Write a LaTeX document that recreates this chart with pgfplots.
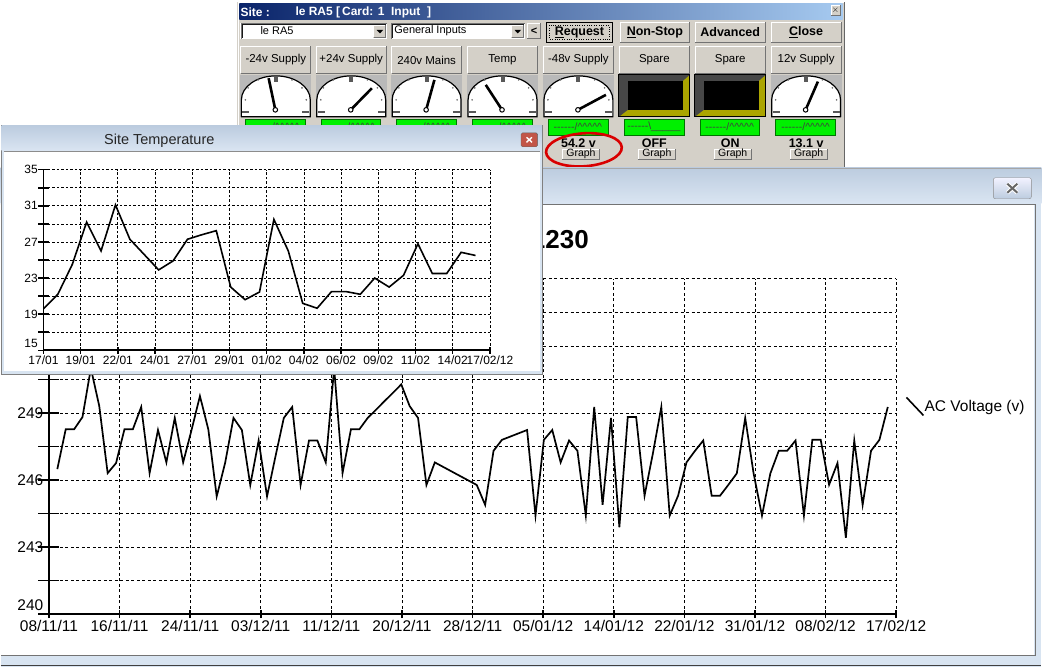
\documentclass[border=0pt]{standalone}
\usepackage{pgfplots}
\pgfplotsset{compat=1.18}
\usepackage{fontspec}
\setmainfont{Liberation Sans}
\definecolor{panel}{HTML}{D4D0C8}
\definecolor{navy}{HTML}{0A246A}
\definecolor{ltblue}{HTML}{A6CAF0}
\definecolor{winA}{HTML}{BCCCDF}
\definecolor{winB}{HTML}{DAE5F2}
\definecolor{frame}{HTML}{D8E4F1}
\definecolor{led}{HTML}{00F000}
\definecolor{olive}{HTML}{ABA500}
\definecolor{closered}{HTML}{C25548}
\newcommand\bevel[4]{%
  \fill[panel] (#1,#2) rectangle (#3,#4);
  \draw[white, line width=1pt] (#1+0.5,#4-0.5) -- (#1+0.5,#2+0.5) -- (#3-0.5,#2+0.5);
  \draw[black!55, line width=1pt] (#1+0.5,#4-0.5) -- (#3-0.5,#4-0.5) -- (#3-0.5,#2+0.5);}
\newcommand\hy{\mbox{-}}
\newcommand\ca{\textasciicircum}
\newcommand\ledup{\hy\hy\hy\hy\hy\hy/\ca\ca\ca\ca\ca}
\newcommand\leddown{\hy\hy\hy\hy\hy\hy\textbackslash\_\_\_\_\_}
\begin{document}
\begin{tikzpicture}[x=1pt,y=1pt]
\fill[white] (0,0) rectangle (1042,668);
\begin{scope}[y=-1pt, yshift=668pt]
% ---------- control panel ----------
\fill[panel] (237,2) rectangle (845,168);
\draw[white] (237.5,168) -- (237.5,2.5) -- (845,2.5);
\draw[black!60] (844.5,2.5) -- (844.5,168);
\shade[left color=navy, right color=ltblue] (239,4) rectangle (843,20);
\node[anchor=west, text=white, font=\bfseries\fontsize{12}{14}\selectfont, inner sep=0pt] at (240,12.5) {Site :};
\node[anchor=west, text=white, font=\bfseries\fontsize{12}{14}\selectfont, inner sep=0pt] at (295,12.5) {le RA5 [\,Card: 1 \ Input \ ]};
\bevel{831}{5}{841}{16}
\node[font=\fontsize{9}{9}\selectfont, inner sep=0pt] at (836,10.5) {$\times$};
% dropdowns
\fill[white] (240,23) rectangle (387,39);
\draw[black!55] (240.5,39) -- (240.5,23.5) -- (387,23.5);
\draw[black!90] (241.5,38) -- (241.5,24.5) -- (386,24.5);
\bevel{373}{25}{386}{38}
\fill (376.5,30) -- (383,30) -- (379.75,33.5) -- cycle;
\node[anchor=west, font=\fontsize{11}{13}\selectfont, inner sep=0pt] at (260,31) {le RA5};
\fill[white] (391,23) rectangle (525,39);
\draw[black!55] (391.5,39) -- (391.5,23.5) -- (525,23.5);
\draw[black!90] (392.5,38) -- (392.5,24.5) -- (524,24.5);
\bevel{511}{25}{524}{38}
\fill (514.5,30) -- (521,30) -- (517.75,33.5) -- cycle;
\node[anchor=west, font=\fontsize{11}{13}\selectfont, inner sep=0pt] at (394,31) {General Inputs};
\bevel{527}{23}{541}{39}
\node[font=\bfseries\fontsize{11}{13}\selectfont, inner sep=0pt] at (534,31) {<};
% top buttons
\bevel{546}{22}{613}{43}
\draw[black, line width=1pt] (546.5,22.5) rectangle (612.5,42.5);
\draw[black, dotted] (549.5,25.5) rectangle (609.5,39.5);
\node[font=\bfseries\fontsize{12.5}{14}\selectfont, inner sep=0pt] at (579.5,32.5) {\underline{R}equest};
\bevel{620}{22}{690}{43}
\node[font=\bfseries\fontsize{12.5}{14}\selectfont, inner sep=0pt] at (655,32.5) {\underline{N}on-Stop};
\bevel{695}{22}{766}{43}
\node[font=\bfseries\fontsize{12.5}{14}\selectfont, inner sep=0pt] at (730.5,32.5) {Advanced};
\bevel{771}{22}{842}{43}
\node[font=\bfseries\fontsize{12.5}{14}\selectfont, inner sep=0pt] at (806.5,32.5) {\underline{C}lose};
% header buttons
\foreach \c/\lab in {240/{-24v Supply},315.5/{+24v Supply},391/{240v Mains},467/{Temp},543/{-48v Supply},619/{Spare},695/{Spare},771/{12v Supply}}{
  \bevel{\c}{46}{\c+71}{74}
  \node[font=\fontsize{11.5}{13}\selectfont, inner sep=0pt] at (\c+35.5,60) {\lab};
}
% dial gauges
\foreach \c/\tx/\ty in {240/268.3/78.3,315.5/371.7/88.3,391/434.3/80,467/485.7/85,543/606/95,771/818.3/81.7}{
  \fill[gray!55] (\c,75) rectangle (\c+71,117);
  \fill[white, draw=black, line width=1.2pt] (\c+1,117) -- (\c+1,100) arc[start angle=180, end angle=0, x radius=34.5pt, y radius=24pt] -- (\c+70,117) -- cycle;
  \fill[black!65] (\c+33.5,76) rectangle (\c+37.5,82);
  \fill[black!65] (\c+2,111) rectangle (\c+9,113.5);
  \fill[black!65] (\c+62,111) rectangle (\c+69,113.5);
  \foreach \dx/\dy in {7.7/88,17.7/80,51.7/80,61.7/88,5/100,66/100}{
    \fill[black!60] (\c+\dx,\dy) circle[radius=0.9pt];}
  \draw[line width=2.6pt] (\c+35,110) -- (\tx,\ty);
  \draw[fill=white, line width=1pt] (\c+35,110) circle[radius=2.3pt];
}
% spare displays
\foreach \c in {619,695}{
  \fill[olive] (\c,75) rectangle (\c+71,117);
  \fill[black!72] (\c,75) -- (\c+71,75) -- (\c+64,81) -- (\c+9,81) -- (\c+9,110) -- (\c,117) -- cycle;
  \fill[black] (\c+9,81) rectangle (\c+64,110);
  \draw[black, line width=0.8pt] (\c,75) rectangle (\c+71,117);
}
% LEDs
\foreach \c in {240,315.5,391,467,543,695,771}{
  \fill[led, draw=green!45!black] (\c+5,119) rectangle (\c+65,135);
  \node[font=\fontsize{10.5}{12}\selectfont, inner sep=0pt, text=black!75] at (\c+35,127) {\ledup};
}
\fill[led, draw=green!45!black] (624,119) rectangle (684,135);
\node[font=\fontsize{10.5}{12}\selectfont, inner sep=0pt, text=black!75] at (654,127) {\leddown};
% values and graph buttons
\foreach \c/\v in {543/{54.2 v},619/{OFF},695/{ON},771/{13.1 v}}{
  \node[font=\bfseries\fontsize{12.5}{14}\selectfont, inner sep=0pt] at (\c+35.5,143.5) {\v};
  \bevel{\c+19}{149}{\c+57}{160}
  \node[font=\fontsize{10.5}{12}\selectfont, inner sep=0pt] at (\c+38,154.5) {Graph};
}
\draw[red!85!black, line width=2.6pt, rotate around={4:(584,150)}] (584,150) ellipse[x radius=38pt, y radius=16.5pt];
% ---------- main window ----------
\fill[frame] (0,168) rectangle (1042,668);
\shade[top color=winA, bottom color=winB] (0,168) rectangle (1042,204);
\draw[black!35] (0,168.5) -- (1042,168.5);
\fill[white] (0,205) rectangle (1035,656);
\draw[black!55] (0,204.5) -- (1035.5,204.5) -- (1035.5,656.5) -- (0,656.5);
\draw[black!75, line width=1.4pt] (0,666.5) -- (1042,666.5);
\shade[rounded corners=2pt, top color=white!95!blue, bottom color=winA, draw=black!45] (994,178) rectangle (1032,199);
\draw[white, line width=4pt] (1008,184) -- (1018,193) (1018,184) -- (1008,193);
\draw[black!60, line width=2pt] (1008,184) -- (1018,193) (1018,184) -- (1008,193);
\end{scope}
% ---------- main chart ----------
\begin{axis}[
  at={(48.3pt,53pt)}, anchor=south west, scale only axis,
  width=848.4pt, height=335.7pt,
  xmin=0, xmax=101, ymin=240, ymax=255,
  axis x line*=bottom, axis y line*=left,
  axis line style={-, line width=2pt, black},
  xtick={0,8.41667,16.83333,25.25,33.66667,42.08333,50.5,58.91667,67.33333,75.75,84.16667,92.58333,101},
  xticklabels={08/11/11,16/11/11,24/11/11,03/12/11,11/12/11,20/12/11,28/12/11,05/01/12,14/01/12,22/01/12,31/01/12,08/02/12,17/02/12},
  ytick={243,246,249,252,255}, yticklabels={243,246,249,{},{}},
  minor ytick={241.5,244.5,247.5,250.5,253.5},
  extra y ticks={240}, extra y tick labels={240},
  extra y tick style={yticklabel style={yshift=9pt}},
  grid=both,
  major grid style={black, line width=0.9pt, dash pattern=on 3pt off 2.5pt},
  minor grid style={black, line width=0.9pt, dash pattern=on 3pt off 2.5pt},
  tick align=center,
  x tick style={black, line width=1.5pt, /pgfplots/major tick length=8pt},
  y tick style={black, line width=1.4pt, /pgfplots/major tick length=21pt, /pgfplots/minor tick length=21pt},
  ticklabel style={font=\fontsize{15.5}{18}\selectfont, black},
]
\addplot[black, line width=1.7pt] coordinates {
(1,246.49)(2,248.27)(3,248.27)(4,248.82)(5,251.0)(6,249.31)(7,246.31)(8,246.76)(9,248.27)(10,248.27)
(11,249.27)(12,246.31)(13,248.24)(14,246.79)(15,248.78)(16,246.79)(17,248.24)(18,249.76)(19,248.27)(20,245.27)
(21,246.76)(22,248.78)(23,248.24)(24,245.78)(25,247.77)(26,245.27)(27,247.05)(28,248.78)(29,249.27)(30,245.78)
(31,247.77)(32,247.77)(33,246.79)(34,251.0)(35,246.31)(36,248.27)(37,248.27)(38,248.78)(39,249.15)(40,249.53)
(41,249.9)(42,250.28)(43,249.31)(44,248.78)(45,245.78)(46,246.79)(51,245.78)(52,244.89)(53,247.31)(54,247.80)
(57,248.24)(58,244.41)(59,247.8)(60,248.24)(61,246.79)(62,247.77)(63,247.31)(64,244.41)(65,249.27)(66,244.89)
(67,248.78)(68,243.89)(69,248.82)(70,248.82)(71,245.30)(72,247.2)(73,249.27)(74,244.41)(75,245.30)(76,246.79)
(77,247.3)(78,247.77)(79,245.30)(80,245.30)(81,245.79)(82,246.30)(83,248.78)(84,246.30)(85,244.41)(86,246.30)
(87,247.31)(88,247.31)(89,247.77)(90,244.41)(91,247.80)(92,247.80)(93,245.79)(94,246.76)(95,243.42)(96,247.77)
(97,244.89)(98,247.31)(99,247.80)(100,249.27)};
\end{axis}
\begin{scope}[y=-1pt, yshift=668pt]
\draw[black, line width=1.6pt] (907,398) -- (924,416);
\node[anchor=west, font=\fontsize{15.5}{18}\selectfont, inner sep=0pt] at (925,408) {AC Voltage (v)};
\node[anchor=east, font=\bfseries\fontsize{26}{30}\selectfont, inner sep=0pt] at (589,240) {1230};
% ---------- temperature window ----------
\fill[frame] (0,125) rectangle (543,375);
\draw[black!50] (0.5,125.5) rectangle (542.5,374.5);
\shade[top color=winA, bottom color=winB] (1,126) rectangle (542,151);
\fill[white] (3,152) rectangle (540,372);
\draw[black!45] (3,151.5) -- (540,151.5);
\node[font=\fontsize{14.5}{17}\selectfont, text=black!85, inner sep=0pt] at (158.8,140.5) {Site Temperature};
\fill[closered, draw=black!60, rounded corners=1.5pt] (521,133) rectangle (537.6,147);
\draw[white, line width=1.4pt] (526.5,137.5) -- (532,142.5) (532,137.5) -- (526.5,142.5);
\end{scope}
% ---------- temperature chart ----------
\begin{axis}[
  at={(42.8pt,317.3pt)}, anchor=south west, scale only axis,
  width=447.1pt, height=180.7pt,
  xmin=0, xmax=31, ymin=15, ymax=35,
  axis x line*=bottom, axis y line*=left,
  axis line style={-, line width=1.8pt, black},
  xtick={0,2.58333,5.16667,7.75,10.33333,12.91667,15.5,18.08333,20.66667,23.25,25.83333,28.41667,31},
  xticklabels={17/01,19/01,22/01,24/01,27/01,29/01,01/02,04/02,06/02,09/02,11/02,14/02,17/02/12},
  ytick={19,23,27,31,35}, yticklabels={19,23,27,31,35},
  minor ytick={17,21,25,29,33},
  extra y ticks={15}, extra y tick labels={15},
  extra y tick style={yticklabel style={yshift=7pt}},
  grid=both,
  major grid style={black, line width=0.8pt, dash pattern=on 2.5pt off 2pt},
  minor grid style={black, line width=0.8pt, dash pattern=on 2.5pt off 2pt},
  tick align=center,
  x tick style={black, line width=1.4pt, /pgfplots/major tick length=7pt},
  y tick style={black, line width=1.4pt, /pgfplots/major tick length=10.5pt, /pgfplots/minor tick length=10.5pt},
  ticklabel style={font=\fontsize{12}{14}\selectfont, black},
]
\addplot[black, line width=1.6pt] coordinates {
(0,19.6)(1,21.2)(2,24.5)(3,29.2)(4,26.0)(5,31.1)(6,27.3)(7,25.6)(8,23.9)(9,24.9)
(10,27.3)(11,27.8)(12,28.25)(13,22.0)(14,20.6)(15,21.45)(16,29.5)(17,26.0)(18,20.2)(19,19.65)
(20,21.5)(21,21.5)(22,21.2)(23,23.0)(24,22.0)(25,23.3)(26,26.8)(27,23.5)(28,23.5)(29,25.85)(30,25.5)};
\end{axis}
\end{tikzpicture}
\end{document}
